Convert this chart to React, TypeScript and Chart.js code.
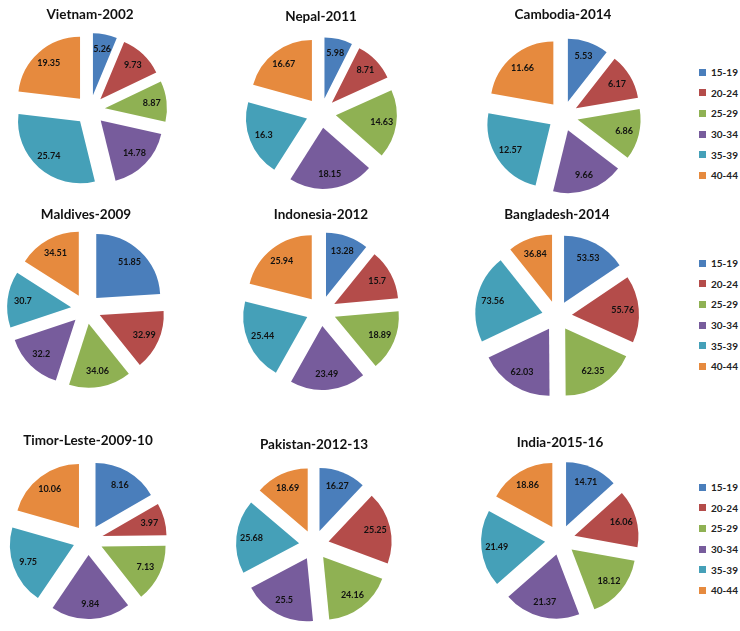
import React, { useEffect, useRef } from "react";
import { Chart, ArcElement, registerables } from "chart.js";

Chart.register(...registerables);

const ageGroups = ["15-19", "20-24", "25-29", "30-34", "35-39", "40-44"];

const countryTitles = [
  "Vietnam-2002",
  "Nepal-2011",
  "Cambodia-2014",
  "Maldives-2009",
  "Indonesia-2012",
  "Bangladesh-2014",
  "Timor-Leste-2009-10",
  "Pakistan-2012-13",
  "India-2015-16",
];

const vietnam2002 = [5.26, 9.73, 8.87, 14.78, 25.74, 19.35];
const nepal2011 = [5.98, 8.71, 14.63, 18.15, 16.3, 16.67];
const cambodia2014 = [5.53, 6.17, 6.86, 9.66, 12.57, 11.66];
const maldives2009 = [51.85, 32.99, 34.06, 32.2, 30.7, 34.51];
const indonesia2012 = [13.28, 15.7, 18.89, 23.49, 25.44, 25.94];
const bangladesh2014 = [53.53, 55.76, 62.35, 62.03, 73.56, 36.84];
const timorLeste2009 = [8.16, 3.97, 7.13, 9.84, 9.75, 10.06];
const pakistan2012 = [16.27, 25.25, 24.16, 25.5, 25.68, 18.69];
const india2015 = [14.71, 16.06, 18.12, 21.37, 21.49, 18.86];

const seriesValues = [
  vietnam2002,
  nepal2011,
  cambodia2014,
  maldives2009,
  indonesia2012,
  bangladesh2014,
  timorLeste2009,
  pakistan2012,
  india2015,
];

const sliceColors = ["#4A7EBB", "#B44C4A", "#8FB153", "#775C9C", "#45A0B8", "#E68A3E"];

// layout: [pieCenterX, pieCenterY, titleCenterY, radius]
const layout: number[][] = [
  [90, 110, 15, 62],
  [321, 113, 17, 61],
  [563, 116, 15, 63],
  [86, 309, 215, 64],
  [321, 311, 215, 64],
  [557, 316, 215, 67],
  [88, 540, 441, 64],
  [314, 545, 445, 63],
  [560, 540, 443, 64],
];

const legendTops = [72, 263, 487];

const TITLE_H = 18;
const CANVAS_W = 220;
const EXPLODE = 15;

const baseArcDraw = ArcElement.prototype.draw;

// Explode every slice by the same distance along its bisector (Excel style)
const explodeSlices = {
  id: "explodeSlices",
  beforeDatasetsDraw(chart: any) {
    const meta = chart.getDatasetMeta(0);
    meta.data.forEach((arc: any) => {
      arc.draw = function (ctx: CanvasRenderingContext2D, area: any) {
        const mid = (this.startAngle + this.endAngle) / 2;
        ctx.save();
        ctx.translate(Math.cos(mid) * EXPLODE, Math.sin(mid) * EXPLODE);
        baseArcDraw.call(this, ctx, area);
        ctx.restore();
      };
    });
  },
};

const valueLabels = {
  id: "valueLabels",
  afterDatasetsDraw(chart: any) {
    const ctx = chart.ctx;
    const meta = chart.getDatasetMeta(0);
    const data = chart.data.datasets[0].data;
    ctx.save();
    ctx.font = "bold 9px Lato, 'DejaVu Sans', sans-serif";
    ctx.fillStyle = "#111";
    ctx.textAlign = "center";
    ctx.textBaseline = "middle";
    meta.data.forEach((arc: any, i: number) => {
      const p = arc.getProps(["x", "y", "startAngle", "endAngle", "outerRadius"], true);
      const mid = (p.startAngle + p.endAngle) / 2;
      const d = EXPLODE + p.outerRadius * 0.76;
      ctx.fillText(String(data[i]), p.x + Math.cos(mid) * d, p.y + Math.sin(mid) * d);
    });
    ctx.restore();
  },
};

function PieChart({ index }: { index: number }) {
  const ref = useRef<HTMLCanvasElement>(null);
  const [cx, cy, ty, r] = layout[index];
  const top = ty - TITLE_H / 2;
  const height = TITLE_H + 2 * (cy - (top + TITLE_H));
  const left = cx - CANVAS_W / 2;

  useEffect(() => {
    if (!ref.current) return;
    const chart = new Chart(ref.current, {
      type: "pie",
      data: {
        labels: ageGroups,
        datasets: [
          {
            data: seriesValues[index],
            backgroundColor: sliceColors,
            borderWidth: 0,
            offset: 0,
            radius: r,
          } as any,
        ],
      },
      options: {
        responsive: false,
        animation: false,
        layout: { padding: 0 },
        plugins: {
          legend: { display: false },
          tooltip: { enabled: false },
          title: {
            display: true,
            text: countryTitles[index],
            color: "#111",
            font: { family: "Lato, 'DejaVu Sans', sans-serif", size: 13.5, weight: "bold", lineHeight: TITLE_H / 13.5 },
            padding: { top: 0, bottom: 0 },
          },
        },
      },
      plugins: [explodeSlices, valueLabels],
    });
    return () => chart.destroy();
  }, [index]);

  return (
    <canvas
      ref={ref}
      width={CANVAS_W}
      height={height}
      style={{ position: "absolute", left, top, width: CANVAS_W, height }}
    />
  );
}

function Legend({ top }: { top: number }) {
  return (
    <div style={{ position: "absolute", left: 699, top: top - 10 }}>
      {ageGroups.map((g, i) => (
        <div
          key={g}
          style={{
            display: "flex",
            alignItems: "center",
            height: 20.6,
            fontFamily: "Lato, 'DejaVu Sans', sans-serif",
            fontWeight: "bold",
            fontSize: 10,
            color: "#222",
          }}
        >
          <span
            style={{
              display: "inline-block",
              width: 7,
              height: 7,
              background: sliceColors[i],
              marginRight: 5,
            }}
          />
          {g}
        </div>
      ))}
    </div>
  );
}

export default function App() {
  return (
    <div
      style={{
        position: "absolute",
        left: 0,
        top: 0,
        width: 740,
        height: 631,
        overflow: "hidden",
        background: "#fff",
      }}
    >
      {countryTitles.map((_, i) => (
        <PieChart key={i} index={i} />
      ))}
      {legendTops.map((t, i) => (
        <Legend key={i} top={t} />
      ))}
    </div>
  );
}
